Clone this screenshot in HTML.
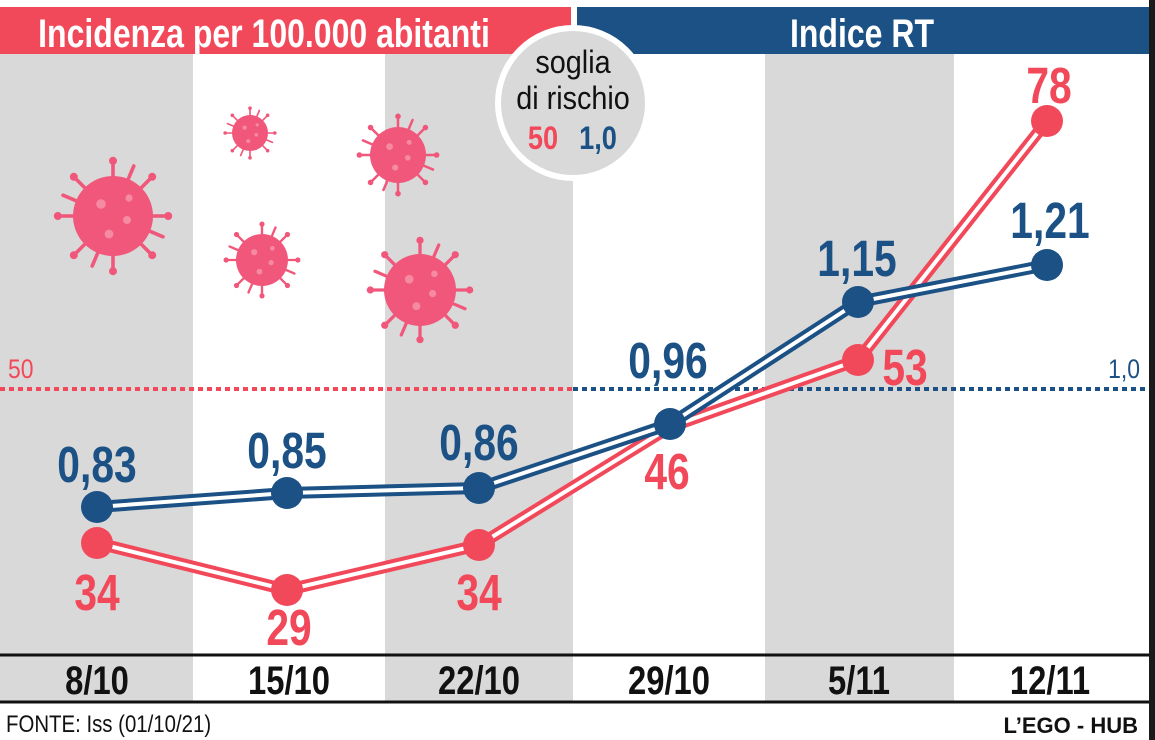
<!DOCTYPE html>
<html><head><meta charset="utf-8"><style>
html,body{margin:0;padding:0;background:#fff;}
svg{display:block;}
text{font-family:"Liberation Sans",sans-serif;}
</style></head><body>
<svg width="1155" height="740" viewBox="0 0 1155 740">
<defs>
<g id="v">
 <g stroke="#f0577a" stroke-width="0.09" stroke-linecap="round">
  <line x1="0" y1="-1" x2="0" y2="-1.35"/><line x1="0" y1="1" x2="0" y2="1.35"/>
  <line x1="-1" y1="0" x2="-1.35" y2="0"/><line x1="1" y1="0" x2="1.35" y2="0"/>
  <line x1="0.7" y1="0.7" x2="0.95" y2="0.95"/><line x1="-0.7" y1="-0.7" x2="-0.95" y2="-0.95"/>
  <line x1="0.7" y1="-0.7" x2="0.95" y2="-0.95"/><line x1="-0.7" y1="0.7" x2="-0.95" y2="0.95"/>
  <line x1="0.38" y1="-0.92" x2="0.52" y2="-1.25"/><line x1="-0.38" y1="0.92" x2="-0.52" y2="1.25"/>
  <line x1="0.92" y1="0.38" x2="1.25" y2="0.52"/><line x1="-0.92" y1="-0.38" x2="-1.25" y2="-0.52"/>
 </g>
 <g fill="#f0577a">
  <circle cx="0" cy="-1.38" r="0.1"/><circle cx="0" cy="1.38" r="0.1"/><circle cx="-1.38" cy="0" r="0.1"/><circle cx="1.38" cy="0" r="0.1"/>
  <circle cx="0.98" cy="0.98" r="0.1"/><circle cx="-0.98" cy="-0.98" r="0.1"/><circle cx="0.98" cy="-0.98" r="0.1"/><circle cx="-0.98" cy="0.98" r="0.1"/>
  <circle cx="0" cy="0" r="1"/>
 </g>
 <g fill="#f78aa3"><circle cx="-0.3" cy="-0.3" r="0.12"/><circle cx="0.35" cy="0.1" r="0.1"/><circle cx="-0.1" cy="0.45" r="0.11"/><circle cx="0.4" cy="-0.45" r="0.09"/></g>
</g>
</defs>
<rect width="1155" height="740" fill="#fff"/>
<rect x="0" y="54" width="193" height="648" fill="#d9d9d9"/>
<rect x="385" y="54" width="188" height="648" fill="#d9d9d9"/>
<rect x="765" y="54" width="189" height="648" fill="#d9d9d9"/>
<rect x="1149" y="0" width="6" height="740" fill="#1a1a1a"/>
<rect x="0" y="7" width="571" height="47" fill="#f2495a"/>
<rect x="577" y="7" width="572" height="47" fill="#1b5185"/>
<text transform="translate(264,47) scale(0.8,1)" font-size="40" font-weight="bold" fill="#fff" text-anchor="middle">Incidenza per 100.000  abitanti</text>
<text transform="translate(862,47) scale(0.8,1)" font-size="40" font-weight="bold" fill="#fff" text-anchor="middle">Indice RT</text>
<use href="#v" transform="translate(113,216) scale(40)"/>
<use href="#v" transform="translate(250,133) scale(18)"/>
<use href="#v" transform="translate(398,155) scale(28)"/>
<use href="#v" transform="translate(262,260) scale(26)"/>
<use href="#v" transform="translate(420,290) scale(36)"/>
<circle cx="573" cy="103" r="75" fill="#d9d9d9" stroke="#fff" stroke-width="6"/>
<text transform="translate(573,73) scale(0.9,1)" font-size="32" fill="#111" text-anchor="middle">soglia</text>
<text transform="translate(573,109) scale(0.9,1)" font-size="32" fill="#111" text-anchor="middle">di rischio</text>
<text transform="translate(543,149) scale(0.85,1)" font-size="32" font-weight="bold" fill="#f2495a" text-anchor="middle">50</text>
<text transform="translate(598,149) scale(0.85,1)" font-size="32" font-weight="bold" fill="#1b5185" text-anchor="middle">1,0</text>
<line x1="0" y1="389" x2="573" y2="389" stroke="#f2495a" stroke-width="4" stroke-dasharray="5,4"/>
<line x1="573" y1="389" x2="1149" y2="389" stroke="#1b5185" stroke-width="4" stroke-dasharray="5,4"/>
<text transform="translate(8,378) scale(0.85,1)" font-size="27" fill="#f2495a">50</text>
<text transform="translate(1140,378) scale(0.85,1)" font-size="27" fill="#1b5185" text-anchor="end">1,0</text>
<polyline points="97,543 287,590 479,545 670,427 858,360 1047,121" fill="none" stroke="#f2495a" stroke-width="12" stroke-linejoin="round"/>
<polyline points="97,543 287,590 479,545 670,427 858,360 1047,121" fill="none" stroke="#fff" stroke-width="4" stroke-linejoin="round"/>
<g fill="#f2495a"><circle cx="97" cy="543" r="16"/><circle cx="287" cy="590" r="16"/><circle cx="479" cy="545" r="16"/><circle cx="858" cy="360" r="16"/><circle cx="1047" cy="121" r="16"/></g>
<polyline points="97,507 287,493 479,488 670,424 858,302 1047,265" fill="none" stroke="#1b5185" stroke-width="12" stroke-linejoin="round"/>
<polyline points="97,507 287,493 479,488 670,424 858,302 1047,265" fill="none" stroke="#fff" stroke-width="4" stroke-linejoin="round"/>
<g fill="#1b5185"><circle cx="97" cy="507" r="16"/><circle cx="287" cy="493" r="16"/><circle cx="479" cy="488" r="16"/><circle cx="670" cy="424" r="16"/><circle cx="858" cy="302" r="16"/><circle cx="1047" cy="265" r="16"/></g>
<g font-size="51" font-weight="bold" fill="#1b5185" text-anchor="middle">
<text transform="translate(97,482) scale(0.8,1)">0,83</text>
<text transform="translate(287,468) scale(0.8,1)">0,85</text>
<text transform="translate(479,460) scale(0.8,1)">0,86</text>
<text transform="translate(668,378) scale(0.8,1)">0,96</text>
<text transform="translate(857,276) scale(0.8,1)">1,15</text>
<text transform="translate(1050,238) scale(0.8,1)">1,21</text>
</g>
<g font-size="51" font-weight="bold" fill="#f2495a" text-anchor="middle">
<text transform="translate(97,610) scale(0.8,1)">34</text>
<text transform="translate(289,645) scale(0.8,1)">29</text>
<text transform="translate(479,610) scale(0.8,1)">34</text>
<text transform="translate(667,489) scale(0.8,1)">46</text>
<text transform="translate(905,385) scale(0.8,1)">53</text>
<text transform="translate(1049,103) scale(0.8,1)">78</text>
</g>
<line x1="0" y1="655" x2="1149" y2="655" stroke="#111" stroke-width="3"/>
<line x1="0" y1="702" x2="1149" y2="702" stroke="#111" stroke-width="3"/>
<g font-size="40" font-weight="bold" fill="#111" text-anchor="middle">
<text transform="translate(97,694) scale(0.82,1)">8/10</text>
<text transform="translate(289,694) scale(0.82,1)">15/10</text>
<text transform="translate(479,694) scale(0.82,1)">22/10</text>
<text transform="translate(669,694) scale(0.82,1)">29/10</text>
<text transform="translate(859,694) scale(0.82,1)">5/11</text>
<text transform="translate(1050,694) scale(0.82,1)">12/11</text>
</g>
<text transform="translate(6,732) scale(0.85,1)" font-size="24" fill="#111">FONTE: Iss (01/10/21)</text>
<text x="1138" y="733" font-size="22" font-weight="bold" fill="#111" text-anchor="end">L’EGO - HUB</text>
</svg>
</body></html>
